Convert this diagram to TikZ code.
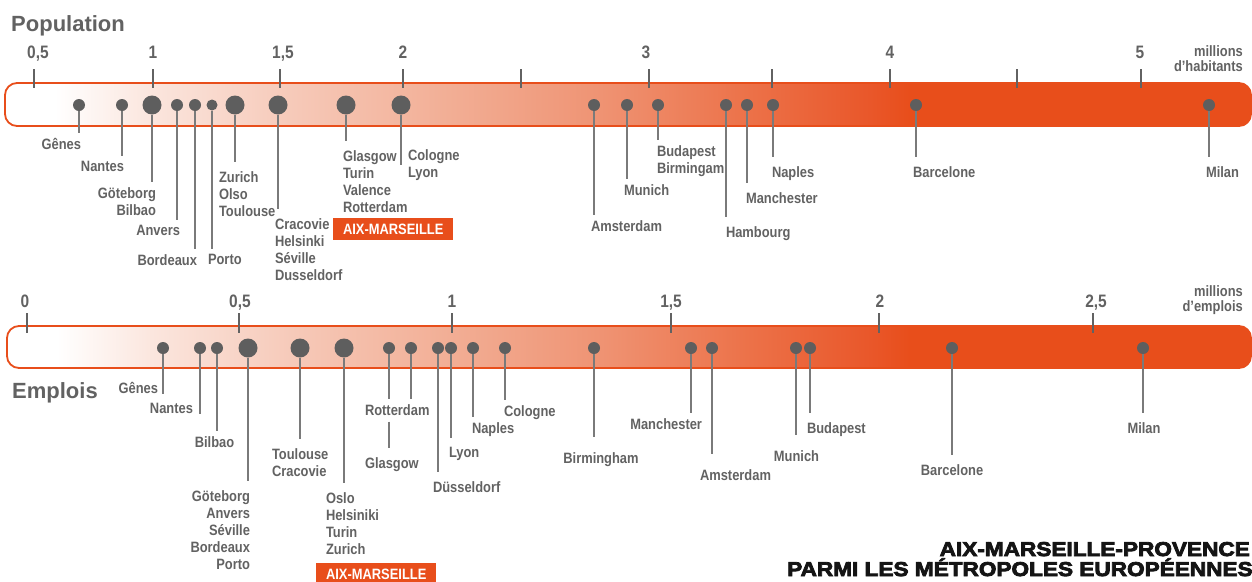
\documentclass[tikz,border=0pt]{standalone}
\usepackage{fontspec}
\setmainfont{Liberation Sans}
\newfontfamily\narrowsans[FakeStretch=0.86]{Liberation Sans}
\newfontfamily\blacksans[FakeStretch=1.13,FakeBold=4]{Liberation Sans}
\usepackage{tikz}
\usetikzlibrary{calc}
\definecolor{metroorange}{HTML}{E84E1B}
\definecolor{dotgray}{HTML}{5E5E5E}
\definecolor{inkgray}{HTML}{626262}
\definecolor{leadgray}{HTML}{7A7A7A}
\definecolor{titleink}{HTML}{141414}
\definecolor{fadeA}{HTML}{FBE6DE}
\definecolor{fadeB}{HTML}{F6C8B7}
\definecolor{fadeC}{HTML}{F2AE95}
\definecolor{fadeD}{HTML}{EF9373}
\definecolor{fadeE}{HTML}{EC7148}
\definecolor{fadeF}{HTML}{E9572A}
\pgfdeclarehorizontalshading{barfade}{100bp}{color(0bp)=(white); color(27bp)=(white);
  color(30.8bp)=(fadeA); color(36.8bp)=(fadeB); color(42.8bp)=(fadeC); color(48.9bp)=(fadeD);
  color(54.9bp)=(fadeE); color(59.7bp)=(fadeF); color(61.3bp)=(metroorange); color(100bp)=(metroorange)}

\begin{document}
\begin{tikzpicture}[x=1pt,y=-1pt,
  citydot/.style={circle, fill=dotgray, inner sep=0pt, minimum size=12pt},
  bigcitydot/.style={citydot, minimum size=19pt},
  city/.style={font=\narrowsans\bfseries\fontsize{15}{17}\selectfont, text=inkgray,
    inner sep=0pt, outer xsep=0pt, outer ysep=#1},
  city/.default=6pt,
  leader/.style={leadgray, line width=1.3pt},
  scaletick/.style={inkgray, line width=1.2pt},
  ticklabel/.style={font=\narrowsans\bfseries\fontsize{18}{20}\selectfont, text=inkgray, anchor=base},
  unitlabel/.style={font=\narrowsans\bfseries\fontsize{15}{15}\selectfont, text=inkgray,
    align=right, anchor=north east, inner sep=0pt},
  heading/.style={font=\bfseries\fontsize{22}{24}\selectfont, text=inkgray, anchor=base west, inner sep=0pt},
  scalebar/.style={shading=barfade, draw=metroorange, line width=1.8pt, rounded corners=12pt},
  aixbox/.style={fill=metroorange, text=white, font=\narrowsans\bfseries\fontsize{15}{17}\selectfont,
    minimum width=120pt, minimum height=22pt, inner sep=0pt, anchor=north west},
  titletext/.style={font=\blacksans\bfseries\fontsize{20}{24}\selectfont, text=titleink, inner sep=0pt}]
  \useasboundingbox (0,0) rectangle (1252,581);

  % population scale
  \shade[scalebar] (5,83) rectangle (1251,126);
  \foreach \x in {34,153,280,403,521,649,772,890,1017,1141}
    \draw[scaletick] (\x,69) -- (\x,88);
  \foreach \x/\t in {38/{0,5},153/1,283/{1,5},403/2,646/3,890/4,1140/5}
    \node[ticklabel] (ptick-\x) at (\x,58.5) {\t};
  \node[heading] (pop-title) at (11,31) {Population};
  \node[unitlabel] (pop-unit) at (1243,45.5) {millions\\d’habitants};

  \node[citydot] (p-genes) at (79,105) {};
  \node[citydot] (p-nantes) at (122,105) {};
  \node[bigcitydot] (p-goteborg) at (152,105) {};
  \node[citydot] (p-anvers) at (177,105) {};
  \node[citydot] (p-bordeaux) at (195,105) {};
  \node[citydot, minimum size=11pt] (p-porto) at (212,105) {};
  \node[bigcitydot] (p-zurich) at (235,105) {};
  \node[bigcitydot] (p-cracovie) at (278,105) {};
  \node[bigcitydot] (p-glasgow) at (346,105) {};
  \node[bigcitydot] (p-cologne) at (401,105) {};
  \node[citydot] (p-amsterdam) at (594,105) {};
  \node[citydot] (p-munich) at (627,105) {};
  \node[citydot] (p-budapest) at (658,105) {};
  \node[citydot] (p-hambourg) at (726,105) {};
  \node[citydot] (p-manchester) at (747,105) {};
  \node[citydot] (p-naples) at (773,105) {};
  \node[citydot] (p-barcelone) at (916,105) {};
  \node[citydot] (p-milan) at (1209,105) {};

  \node[city, anchor=north east] (l-genes) at (81,132.5) {Gênes};
  \node[city, anchor=north east] (l-nantes) at (124,155.5) {Nantes};
  \node[city, anchor=north east, align=right] (l-goteborg) at (156,182) {Göteborg\\Bilbao};
  \node[city, anchor=north east] (l-anvers) at (180,219.5) {Anvers};
  \node[city, anchor=north east] (l-bordeaux) at (197,248.5) {Bordeaux};
  \node[city, anchor=north west] (l-porto) at (208,248.5) {Porto};
  \node[city=10pt, anchor=north west, align=left] (l-zurich) at (219,161.5) {Zurich\\Olso\\Toulouse};
  \node[city=10pt, anchor=north west, align=left] (l-cracovie) at (275,208.5) {Cracovie\\Helsinki\\Séville\\Dusseldorf};
  \node[city=10pt, anchor=north west, align=left] (l-glasgow) at (343,140.5) {Glasgow\\Turin\\Valence\\Rotterdam};
  \node[aixbox] (aix-pop) at (333,218) {AIX-MARSEILLE};
  \node[city, anchor=north west, align=left] (l-cologne) at (408,143.5) {Cologne\\Lyon};
  \node[city, anchor=north west] (l-amsterdam) at (591,214.5) {Amsterdam};
  \node[city, anchor=north west] (l-munich) at (624,178.5) {Munich};
  \node[city, anchor=north west, align=left] (l-budapest) at (657,139.5) {Budapest\\Birmingam};
  \node[city=10pt, anchor=north west] (l-hambourg) at (726,216.5) {Hambourg};
  \node[city=10pt, anchor=north west] (l-manchester) at (746,182.5) {Manchester};
  \node[city=10pt, anchor=north west] (l-naples) at (772,156.5) {Naples};
  \node[city=10pt, anchor=north west] (l-barcelone) at (913,156.5) {Barcelone};
  \node[city=10pt, anchor=north west] (l-milan) at (1206,156.5) {Milan};

  \foreach \c in {genes,nantes,goteborg,anvers,bordeaux,porto,zurich,cracovie,glasgow,
      amsterdam,munich,budapest,hambourg,manchester,naples,barcelone,milan}
    \draw[leader] (p-\c.south) -- (p-\c |- l-\c.north);
  \draw[leader] (p-cologne.south) -- (p-cologne |- l-cologne.center);

  % jobs scale
  \shade[scalebar] (7,326) rectangle (1251,368);
  \foreach \x in {27,239,452,671,879,1093}
    \draw[scaletick] (\x,313) -- (\x,333);
  \foreach \x/\t in {25/0,240/{0,5},452/1,671/{1,5},880/2,1096/{2,5}}
    \node[ticklabel] (qtick-\x) at (\x,307.5) {\t};
  \node[heading] (job-title) at (12,398) {Emplois};
  \node[unitlabel] (job-unit) at (1243,285.5) {millions\\d’emplois};

  \node[citydot] (q-genes) at (163,348) {};
  \node[citydot] (q-nantes) at (200,348) {};
  \node[citydot] (q-bilbao) at (217,348) {};
  \node[bigcitydot] (q-goteborg) at (248,348) {};
  \node[bigcitydot] (q-toulouse) at (300,348) {};
  \node[bigcitydot] (q-oslo) at (344,348) {};
  \node[citydot] (q-rotterdam) at (389,348) {};
  \node[citydot] (q-glasgow) at (411,348) {};
  \node[citydot] (q-dusseldorf) at (438,348) {};
  \node[citydot] (q-lyon) at (451,348) {};
  \node[citydot] (q-naples) at (473,348) {};
  \node[citydot] (q-cologne) at (505,348) {};
  \node[citydot] (q-birmingham) at (594,348) {};
  \node[citydot] (q-manchester) at (691,348) {};
  \node[citydot] (q-amsterdam) at (712,348) {};
  \node[citydot] (q-munich) at (796,348) {};
  \node[citydot] (q-budapest) at (810,348) {};
  \node[citydot] (q-barcelone) at (952,348) {};
  \node[citydot] (q-milan) at (1143,348) {};

  \node[city, anchor=north east] (m-genes) at (158,376.5) {Gênes};
  \node[city, anchor=north east] (m-nantes) at (193,397.5) {Nantes};
  \node[city, anchor=north] (m-bilbao) at (214.5,430.5) {Bilbao};
  \node[city=10pt, anchor=north east, align=right] (m-goteborg) at (250,481) {Göteborg\\Anvers\\Séville\\Bordeaux\\Porto};
  \node[city=10pt, anchor=north west, align=left] (m-toulouse) at (272,438.5) {Toulouse\\Cracovie};
  \node[city=10pt, anchor=north west, align=left] (m-oslo) at (326,482.5) {Oslo\\Helsiniki\\Turin\\Zurich};
  \node[aixbox] (aix-job) at (316,563) {AIX-MARSEILLE};
  \node[city, anchor=north west] (m-rotterdam) at (365,398.5) {Rotterdam};
  \node[city=10pt, anchor=north west] (m-glasgow) at (365,447.5) {Glasgow};
  \node[city=10pt, anchor=north west] (m-dusseldorf) at (433,471.5) {Düsseldorf};
  \node[city=10pt, anchor=north west] (m-lyon) at (449,437.5) {Lyon};
  \node[city, anchor=north west] (m-naples) at (472,416.5) {Naples};
  \node[city, anchor=north west] (m-cologne) at (504,399.5) {Cologne};
  \node[city=16pt, anchor=north] (m-birmingham) at (601,436.5) {Birmingham};
  \node[city, anchor=north east] (m-manchester) at (702,412.5) {Manchester};
  \node[city=16pt, anchor=north west] (m-amsterdam) at (700,453.5) {Amsterdam};
  \node[city=16pt, anchor=north] (m-munich) at (796.5,434.5) {Munich};
  \node[city=10pt, anchor=north west] (m-budapest) at (807,412.5) {Budapest};
  \node[city=10pt, anchor=north] (m-barcelone) at (952,454.5) {Barcelone};
  \node[city=10pt, anchor=north] (m-milan) at (1144,412.5) {Milan};

  \foreach \c in {genes,nantes}
    \draw[leader] (q-\c.south) -- (q-\c |- m-\c.base);
  \foreach \c in {bilbao,goteborg,toulouse,oslo,rotterdam,dusseldorf,lyon,naples,cologne,
      birmingham,manchester,amsterdam,munich,budapest,barcelone,milan}
    \draw[leader] (q-\c.south) -- (q-\c |- m-\c.north);
  \draw[leader] (q-glasgow.south) -- (q-glasgow |- m-rotterdam.north);
  \draw[leader] (m-rotterdam.south -| q-rotterdam) -- (m-glasgow.north -| q-rotterdam);

  % title
  \node[titletext, anchor=base east] (title-a) at (1250,556) {AIX-MARSEILLE-PROVENCE};
  \node[titletext, anchor=base west] (title-b) at (787,576) {PARMI LES MÉTROPOLES EUROPÉENNES};
\end{tikzpicture}
\end{document}
